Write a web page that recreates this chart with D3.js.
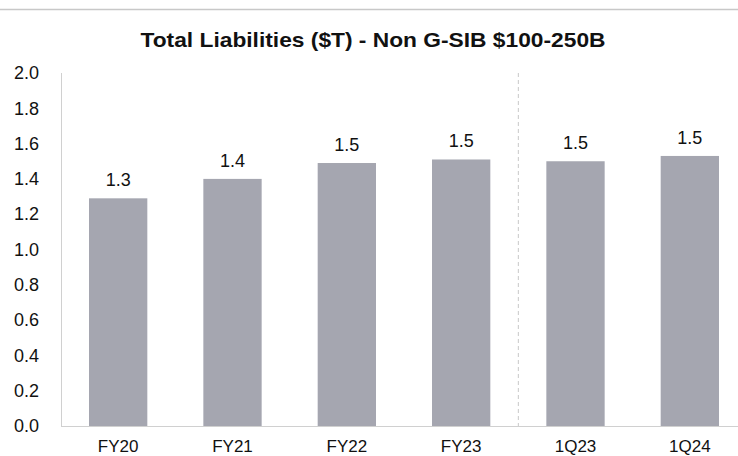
<!DOCTYPE html>
<html>
<head>
<meta charset="utf-8">
<script src="https://cdn.jsdelivr.net/npm/d3@7"></script>
<style>
  body { margin: 0; background: #fff; }
  text { font-family: "Liberation Sans", Arial, sans-serif; }
</style>
</head>
<body>
<svg id="chart"></svg>
<script>
const width = 738;
const height = 456;

// Chart data
const categories = ["FY20", "FY21", "FY22", "FY23", "1Q23", "1Q24"];
const values = [1.29, 1.40, 1.49, 1.51, 1.50, 1.53];
const valueLabels = ["1.3", "1.4", "1.5", "1.5", "1.5", "1.5"];
const yTicks = [0, 0.2, 0.4, 0.6, 0.8, 1.0, 1.2, 1.4, 1.6, 1.8, 2.0];

const svg = d3.select("#chart").attr("width", width).attr("height", height);

// top rule
svg.append("line")
  .attr("x1", 0).attr("x2", width)
  .attr("y1", 9.5).attr("y2", 9.5)
  .attr("stroke", "#c8c8c8").attr("stroke-width", 1.5);

// title
svg.append("text")
  .attr("x", 373).attr("y", 47)
  .attr("text-anchor", "middle")
  .attr("font-size", 21).attr("font-weight", "bold")
  .attr("fill", "#111")
  .attr("textLength", 465).attr("lengthAdjust", "spacingAndGlyphs")
  .text("Total Liabilities ($T) - Non G-SIB $100-250B");

const x = d3.scaleBand().domain(categories).range([61, 747]).paddingInner(0.49).paddingOuter(0.245);
const y = d3.scaleLinear().domain([0, 2]).range([426, 73]);

// y axis labels
svg.append("g")
  .attr("transform", "translate(61,0)")
  .call(d3.axisLeft(y).tickValues(yTicks).tickFormat(d3.format(".1f")).tickSize(0).tickPadding(22))
  .call(g => g.select(".domain").remove())
  .selectAll("text")
  .attr("font-size", 18).attr("fill", "#111");

// axis lines
svg.append("line")
  .attr("x1", 61.5).attr("x2", 61.5).attr("y1", y(2)).attr("y2", y(0))
  .attr("stroke", "#d0d0d0");
svg.append("line")
  .attr("x1", 61).attr("x2", width).attr("y1", y(0) + 0.5).attr("y2", y(0) + 0.5)
  .attr("stroke", "#d0d0d0");

// dashed separator between annual and quarterly
const sepX = (x("FY23") + x.bandwidth() + x("1Q23")) / 2;
svg.append("line")
  .attr("x1", sepX).attr("x2", sepX).attr("y1", y(2)).attr("y2", y(0))
  .attr("stroke", "#c8c8c8").attr("stroke-dasharray", "4,3");

// bars
svg.append("g").selectAll("rect")
  .data(categories)
  .join("rect")
  .attr("x", d => x(d))
  .attr("y", (d, i) => y(values[i]))
  .attr("width", x.bandwidth())
  .attr("height", (d, i) => y(0) - y(values[i]))
  .attr("fill", "#a5a6b0");

// value labels
svg.append("g").selectAll("text")
  .data(categories)
  .join("text")
  .attr("x", d => x(d) + x.bandwidth() / 2)
  .attr("y", (d, i) => y(values[i]) - 12)
  .attr("text-anchor", "middle")
  .attr("font-size", 18).attr("fill", "#111")
  .text((d, i) => valueLabels[i]);

// x axis labels
svg.append("g")
  .attr("transform", `translate(0,${y(0)})`)
  .call(d3.axisBottom(x).tickSize(0).tickPadding(14))
  .call(g => g.select(".domain").remove())
  .selectAll("text")
  .attr("font-size", 17).attr("fill", "#111");
</script>
</body>
</html>
